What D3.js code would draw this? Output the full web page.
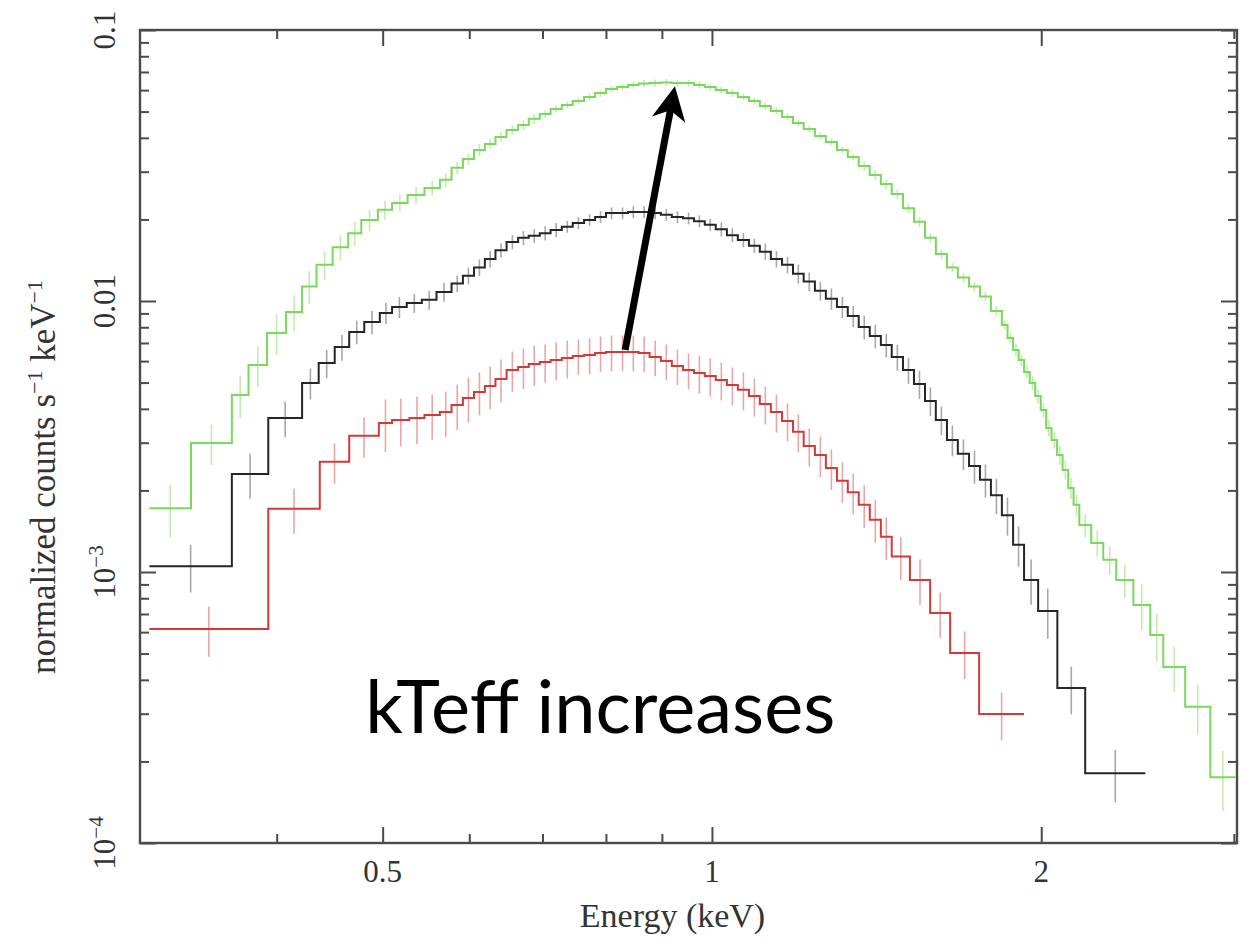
<!DOCTYPE html>
<html>
<head>
<meta charset="utf-8">
<script src="https://cdn.jsdelivr.net/npm/d3@7"></script>
<style>
  html, body { margin: 0; padding: 0; background: #fff; }
  svg { display: block; }
</style>
</head>
<body>
<svg id="chart" width="1257" height="942"></svg>
<script>
// ---- Spectra: step-binned count rates (counts s^-1 keV^-1) with fractional 1-sigma errors ----

// Shared fine binning across the spectral peak (keV)
const midEdges = [0.578,0.592,0.606,0.620,0.634,0.649,0.665,0.680,0.696,0.712,0.729,0.746,0.764,0.782,0.800,0.819,0.838,0.857,0.877,0.898,0.919,0.941,0.963,0.985,1.008,1.032,1.056,1.081,1.106,1.132,1.159,1.186,1.213,1.242,1.271,1.301,1.331,1.362,1.394,1.427,1.460,1.495,1.530,1.566,1.602,1.640,1.678,1.718,1.758,1.799,1.841];

// Green spectrum (highest temperature)
const greenEdges = [0.306,0.334,0.364,0.377,0.392,0.408,0.422,0.435,0.450,0.465,0.478,0.495,0.510,0.527,0.546,0.564,
  ...midEdges,
  1.863,1.885,1.907,1.929,1.952,1.975,1.998,2.021,2.044,2.068,2.092,2.117,2.141,2.167,2.222,2.279,2.342,2.428,2.516,2.586,2.708,2.855,3.010];
const greenRate = [1.72e-3,2.99e-3,4.50e-3,5.81e-3,7.62e-3,9.11e-3,1.13e-2,1.36e-2,1.58e-2,1.78e-2,1.99e-2,2.17e-2,2.30e-2,2.46e-2,2.61e-2,2.80e-2,
  3.10e-2,3.34e-2,3.61e-2,3.80e-2,4.03e-2,4.28e-2,4.46e-2,4.70e-2,4.90e-2,5.11e-2,
  5.29e-2,5.47e-2,5.66e-2,5.85e-2,6.06e-2,6.16e-2,6.27e-2,6.35e-2,6.37e-2,6.40e-2,
  6.37e-2,6.37e-2,6.27e-2,6.16e-2,6.01e-2,5.85e-2,5.66e-2,5.47e-2,5.24e-2,5.03e-2,
  4.78e-2,4.54e-2,4.31e-2,4.06e-2,3.86e-2,3.61e-2,3.40e-2,3.15e-2,2.92e-2,2.70e-2,
  2.48e-2,2.20e-2,1.96e-2,1.71e-2,1.49e-2,1.33e-2,1.22e-2,1.13e-2,1.04e-2,9.19e-3,
  8.16e-3,7.30e-3,6.60e-3,6.06e-3,5.47e-3,4.98e-3,4.46e-3,3.96e-3,3.40e-3,3.07e-3,2.70e-3,2.38e-3,2.04e-3,1.77e-3,
  1.49e-3,1.28e-3,1.11e-3,9.34e-4,7.56e-4,5.85e-4,4.46e-4,3.18e-4,1.75e-4];
const greenRelErr = [0.22,0.17,0.18,0.17,0.17,0.15,0.14,0.12,0.11,0.10,0.09,0.08,0.07,0.07,0.06,0.06,
  0.05,0.05,0.05,0.04,0.04,0.04,0.04,0.04,0.03,0.03,
  0.03,0.03,0.03,0.03,0.03,0.03,0.03,0.03,0.03,0.03,
  0.03,0.03,0.03,0.03,0.03,0.03,0.03,0.03,0.03,0.03,
  0.03,0.03,0.03,0.03,0.03,0.03,0.03,0.04,0.04,0.04,
  0.04,0.04,0.04,0.04,0.04,0.04,0.04,0.04,0.04,0.04,
  0.04,0.04,0.05,0.05,0.05,0.06,0.06,0.06,0.07,0.07,0.08,0.08,0.09,0.09,
  0.10,0.11,0.12,0.14,0.19,0.20,0.19,0.21,0.25];

// Black spectrum (intermediate temperature)
const blackEdges = [0.306,0.364,0.393,0.422,0.437,0.452,0.466,0.481,0.497,0.510,0.526,0.543,0.560,
  ...midEdges,
  1.885,1.929,1.987,2.069,2.194,2.490];
const blackRate = [1.05e-3,2.30e-3,3.70e-3,4.98e-3,5.90e-3,6.77e-3,7.69e-3,8.37e-3,9.03e-3,9.50e-3,9.83e-3,1.01e-2,1.08e-2,
  1.16e-2,1.24e-2,1.33e-2,1.43e-2,1.54e-2,1.65e-2,1.71e-2,1.74e-2,1.78e-2,1.83e-2,
  1.88e-2,1.94e-2,1.99e-2,2.04e-2,2.11e-2,2.11e-2,2.13e-2,2.13e-2,2.11e-2,2.08e-2,
  2.04e-2,2.02e-2,1.97e-2,1.91e-2,1.84e-2,1.75e-2,1.68e-2,1.60e-2,1.52e-2,1.43e-2,
  1.36e-2,1.26e-2,1.18e-2,1.09e-2,1.02e-2,9.50e-3,8.80e-3,8.02e-3,7.43e-3,6.88e-3,
  6.21e-3,5.56e-3,4.94e-3,4.28e-3,3.64e-3,3.07e-3,2.73e-3,2.46e-3,2.19e-3,1.92e-3,
  1.62e-3,1.26e-3,9.34e-4,7.18e-4,3.73e-4,1.81e-4];
const blackRelErr = [0.20,0.19,0.15,0.13,0.12,0.11,0.10,0.10,0.09,0.09,0.08,0.08,0.08,
  0.07,0.07,0.07,0.07,0.06,0.06,0.06,0.06,0.06,0.06,
  0.05,0.05,0.05,0.05,0.05,0.05,0.05,0.05,0.05,0.05,
  0.05,0.05,0.05,0.05,0.06,0.06,0.06,0.06,0.07,0.07,
  0.07,0.08,0.08,0.08,0.09,0.09,0.09,0.10,0.10,0.10,
  0.11,0.11,0.12,0.12,0.12,0.13,0.13,0.14,0.14,0.15,
  0.16,0.17,0.19,0.21,0.20,0.22];

// Red spectrum (lowest temperature)
const redEdges = [0.306,0.393,0.438,0.466,0.496,0.510,0.529,0.546,0.564,
  ...midEdges.slice(0, 41),
  1.517,1.583,1.651,1.755,1.929];
const redRate = [6.16e-4,1.71e-3,2.55e-3,3.18e-3,3.55e-3,3.64e-3,3.70e-3,3.80e-3,3.89e-3,
  4.13e-3,4.39e-3,4.62e-3,4.86e-3,5.15e-3,5.56e-3,5.71e-3,5.85e-3,5.96e-3,6.06e-3,
  6.16e-3,6.27e-3,6.32e-3,6.43e-3,6.48e-3,6.48e-3,6.48e-3,6.43e-3,6.21e-3,6.01e-3,
  5.76e-3,5.56e-3,5.42e-3,5.29e-3,5.11e-3,4.90e-3,4.70e-3,4.46e-3,4.17e-3,3.89e-3,
  3.61e-3,3.29e-3,2.92e-3,2.70e-3,2.42e-3,2.17e-3,1.97e-3,1.77e-3,1.56e-3,1.35e-3,
  1.14e-3,9.34e-4,7.06e-4,5.03e-4,2.99e-4];
const redRelErr = [0.21,0.19,0.17,0.17,0.22,0.20,0.20,0.19,0.19,
  0.19,0.19,0.18,0.18,0.18,0.17,0.17,0.17,0.16,0.16,
  0.16,0.15,0.15,0.15,0.15,0.15,0.15,0.15,0.15,0.15,
  0.15,0.15,0.16,0.16,0.16,0.16,0.16,0.16,0.16,0.16,
  0.16,0.16,0.16,0.17,0.17,0.17,0.17,0.18,0.18,0.18,
  0.18,0.19,0.19,0.20,0.20];

// Axis ranges and ticks
const energyDomain = [0.3, 3.02];
const rateDomain = [1e-4, 0.1];
const xMajorTicks = [0.5, 1, 2];
const xMinorTicks = [0.4, 0.6, 0.7, 0.8, 0.9, 3];
const yMajorTicks = [1e-4, 1e-3, 1e-2, 0.1];
const yMinorTicks = [1e-4, 1e-3, 1e-2].flatMap(d => [2,3,4,5,6,7,8,9].map(m => m * d));
const yTickLabels = [["10", "\u22124"], ["10", "\u22123"], ["0.01", null], ["0.1", null]];

// Annotation: arrow tail/tip in (keV, rate)
const arrowFrom = [0.833, 6.6e-3];
const arrowTo = [0.925, 6.2e-2];
const noteText = "kTeff increases";
const notePos = [0.482, 2.55e-4];

// ---- Drawing ----
const svg = d3.select("#chart");
const frame = { left: 140, right: 1237, top: 30, bottom: 843 };
const x = d3.scaleLog().domain(energyDomain).range([frame.left, frame.right]);
const y = d3.scaleLog().domain(rateDomain).range([frame.bottom, frame.top]);
const axisColor = "#4a4a4a";
const serif = "'Liberation Serif', 'Times New Roman', serif";

const series = [
  { edges: redEdges,   rate: redRate,   err: redRelErr,   line: "#d23a3a", bar: "#eaa6a6" },
  { edges: blackEdges, rate: blackRate, err: blackRelErr, line: "#262626", bar: "#a8a8a8" },
  { edges: greenEdges, rate: greenRate, err: greenRelErr, line: "#7ad85b", bar: "#c3ebb0" }
];

const plot = svg.append("g");
const stepLine = d3.line().x(d => x(d[0])).y(d => y(d[1])).curve(d3.curveStepAfter);

series.forEach(s => {
  const n = Math.min(s.rate.length, s.edges.length - 1);
  const bins = d3.range(n).map(i => ({
    lo: s.edges[i], hi: s.edges[i + 1], v: s.rate[i], r: s.err[i] ?? 0.05
  }));
  // error bars at the logarithmic bin centres
  plot.append("g")
    .selectAll("line")
    .data(bins)
    .join("line")
    .attr("x1", d => x(Math.sqrt(d.lo * d.hi)))
    .attr("x2", d => x(Math.sqrt(d.lo * d.hi)))
    .attr("y1", d => y(d.v * (1 + d.r)))
    .attr("y2", d => y(Math.max(d.v * (1 - d.r), 1e-5)))
    .attr("stroke", s.bar)
    .attr("stroke-width", 1.6);
  const pts = bins.map(d => [d.lo, d.v]);
  pts.push([bins[n - 1].hi, bins[n - 1].v]);
  plot.append("path")
    .datum(pts)
    .attr("d", stepLine)
    .attr("fill", "none")
    .attr("stroke", s.line)
    .attr("stroke-width", 2);
});

// Frame
svg.append("rect")
  .attr("x", frame.left).attr("y", frame.top)
  .attr("width", frame.right - frame.left).attr("height", frame.bottom - frame.top)
  .attr("fill", "none").attr("stroke", axisColor).attr("stroke-width", 2.4);

// Inward ticks on all four sides
function ticks(axisFn, scale, values, size, transform) {
  const g = svg.append("g").attr("transform", transform)
    .call(axisFn(scale).tickValues(values).tickSizeInner(size).tickSizeOuter(0).tickFormat(""));
  g.select(".domain").remove();
  g.selectAll(".tick line").attr("stroke", axisColor).attr("stroke-width", 2);
  return g;
}
ticks(d3.axisBottom, x, xMajorTicks, -16, `translate(0,${frame.bottom})`);
ticks(d3.axisBottom, x, xMinorTicks, -9, `translate(0,${frame.bottom})`);
ticks(d3.axisTop, x, xMajorTicks, -16, `translate(0,${frame.top})`);
ticks(d3.axisTop, x, xMinorTicks, -9, `translate(0,${frame.top})`);
ticks(d3.axisLeft, y, yMajorTicks, -16, `translate(${frame.left},0)`);
ticks(d3.axisLeft, y, yMinorTicks, -9, `translate(${frame.left},0)`);
ticks(d3.axisRight, y, yMajorTicks, -16, `translate(${frame.right},0)`);
ticks(d3.axisRight, y, yMinorTicks, -9, `translate(${frame.right},0)`);

// X tick labels
svg.append("g").selectAll("text")
  .data(xMajorTicks)
  .join("text")
  .attr("x", d => x(d))
  .attr("y", 882)
  .attr("text-anchor", "middle")
  .attr("font-family", serif)
  .attr("font-size", 31)
  .attr("fill", "#333")
  .text(d => d3.format("")(d));

// Y tick labels, rotated
const yl = svg.append("g").selectAll("text")
  .data(yMajorTicks.map((v, i) => ({ v, lab: yTickLabels[i] })))
  .join("text")
  .attr("transform", d => `translate(115,${y(d.v)}) rotate(-90)`)
  .attr("text-anchor", "middle")
  .attr("font-family", serif)
  .attr("font-size", 31)
  .attr("fill", "#333");
yl.append("tspan").text(d => d.lab[0]);
yl.filter(d => d.lab[1]).append("tspan")
  .attr("font-size", 21).attr("dy", -12).text(d => d.lab[1]);

// Axis titles
svg.append("text")
  .attr("x", (frame.left + frame.right) / 2 - 16)
  .attr("y", 927)
  .attr("text-anchor", "middle")
  .attr("font-family", serif)
  .attr("font-size", 34)
  .attr("fill", "#333")
  .text("Energy (keV)");

const yt = svg.append("text")
  .attr("transform", `translate(55,477) rotate(-90)`)
  .attr("text-anchor", "middle")
  .attr("font-family", serif)
  .attr("font-size", 35)
  .attr("fill", "#333");
yt.append("tspan").text("normalized counts s");
yt.append("tspan").attr("font-size", 22).attr("dy", -13).text("\u22121");
yt.append("tspan").attr("dy", 13).text(" keV");
yt.append("tspan").attr("font-size", 22).attr("dy", -13).text("\u22121");

// Annotation arrow
const ax0 = x(arrowFrom[0]), ay0 = y(arrowFrom[1]);
const ax1 = x(arrowTo[0]), ay1 = y(arrowTo[1]);
const len = Math.hypot(ax1 - ax0, ay1 - ay0);
const ux = (ax1 - ax0) / len, uy = (ay1 - ay0) / len;
const px = -uy, py = ux;
const headL = 34, headW = 17;
svg.append("line")
  .attr("x1", ax0).attr("y1", ay0)
  .attr("x2", ax1 - ux * headL * 0.7).attr("y2", ay1 - uy * headL * 0.7)
  .attr("stroke", "#000").attr("stroke-width", 7);
svg.append("path")
  .attr("d", d3.line()([
    [ax1, ay1],
    [ax1 - ux * headL + px * headW, ay1 - uy * headL + py * headW],
    [ax1 - ux * headL * 0.72, ay1 - uy * headL * 0.72],
    [ax1 - ux * headL - px * headW, ay1 - uy * headL - py * headW]
  ]) + "Z")
  .attr("fill", "#000");

svg.append("text")
  .attr("x", x(notePos[0]))
  .attr("y", y(notePos[1]))
  .attr("font-family", "Lato, 'Open Sans', sans-serif")
  .attr("font-size", 74)
  .attr("fill", "#000")
  .text(noteText);
</script>
</body>
</html>
